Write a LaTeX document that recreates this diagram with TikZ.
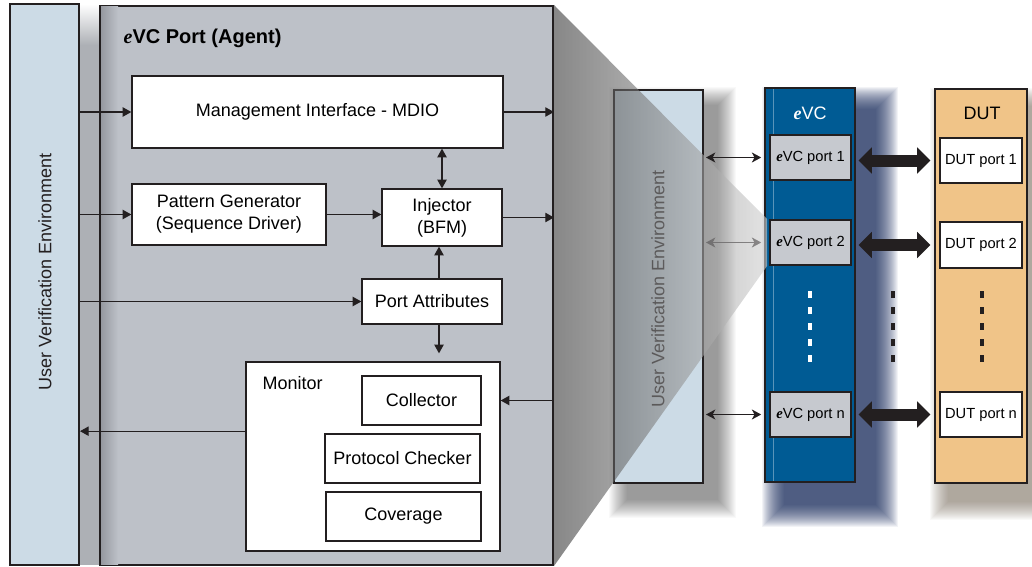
\documentclass[tikz,border=0pt]{standalone}
\usepackage{fontspec}
\setmainfont{Liberation Sans}
\newfontfamily\serifface{Liberation Serif}
\usetikzlibrary{arrows.meta,fit,calc,backgrounds}

\definecolor{ink}{RGB}{35,31,32}
\definecolor{uvefill}{RGB}{204,219,230}
\definecolor{agentfill}{RGB}{189,193,200}
\definecolor{agentedge}{RGB}{150,153,160}
\definecolor{gapgray}{RGB}{173,176,181}
\definecolor{evcblue}{RGB}{0,91,148}
\definecolor{evcshade}{RGB}{22,42,92}
\definecolor{dutfill}{RGB}{240,196,136}
\definecolor{dutshade}{RGB}{105,92,74}
\definecolor{portgray}{RGB}{198,201,207}

% italic serif "e" of the eVC name
\newcommand{\itE}{{\serifface\bfseries\itshape e}}
% soft drop shadow: node, colour, x offset, y offset, layer opacity, spread list
\newcommand{\softshadow}[6]{%
  \foreach \rr in {#6}{%
    \fill[#2, opacity=#5] ($(#1.north west)+(#3-\rr,#4-\rr)$) rectangle ($(#1.south east)+(#3+\rr,#4+\rr)$);
  }}

\begin{document}
\begin{tikzpicture}[x=0.75pt,y=-0.75pt,
  mainfont/.style={font=\fontsize{13.5}{16.5}\selectfont},
  blockbox/.style={draw=ink, line width=1pt, fill=white, inner sep=0pt},
  boxtext/.style={mainfont, align=center, inner sep=0pt},
  portbox/.style={draw=ink, line width=1.2pt, inner sep=0pt},
  porttext/.style={font=\fontsize{11}{13}\selectfont, inner sep=0pt},
  tallbar/.style={draw=ink, line width=1.5pt, inner sep=0pt},
  arr/.style={draw=ink, line width=0.9pt, -{Triangle[length=6.5pt,width=7pt]}},
  darr/.style={draw=ink, line width=0.9pt, {Triangle[length=6.5pt,width=7pt]}-{Triangle[length=6.5pt,width=7pt]}},
  portlink/.style={draw=ink, line width=1.1pt, {Stealth[length=7pt,width=7.5pt,inset=2pt]}-{Stealth[length=7pt,width=7.5pt,inset=2pt]}},
  buslink/.style={draw=ink, line width=9pt, {Triangle[length=10pt,width=19pt]}-{Triangle[length=10pt,width=19pt]}},
  dots/.style={line width=2.7pt, dash pattern=on 5.6pt off 6.4pt},
]
\useasboundingbox (0,0) rectangle (1032,567);

% ---------- agent side ----------
\shade[top color=white, bottom color=gapgray] (79,4) rectangle (100,45);
\fill[gapgray] (79,45) rectangle (100,565);
\node[tallbar, fill=uvefill, fit={(10,4)(79,565)}] (uve) {};
\node[rotate=90, mainfont, text=ink] at (45,272) {User Verification Environment};

\node[tallbar, fill=agentfill, fit={(100,6)(553,565)}] (agent) {};
\shade[left color=agentedge, right color=agentfill] (101,7) rectangle (118,564);
\node[anchor=base west, font=\fontsize{15}{18}\selectfont\bfseries] at (119,44) {\itE VC Port (Agent)};

\node[blockbox, fit={(132,76)(503,148)}] (mi) {};
\node[boxtext] at (mi) {Management Interface - MDIO};
\node[blockbox, fit={(132,184)(326,245)}] (pg) {};
\node[boxtext] at (pg) {Pattern Generator\\(Sequence Driver)};
\node[blockbox, fit={(382,189)(502,246)}] (inj) {};
\node[boxtext] at (inj) {Injector\\(BFM)};
\node[blockbox, fit={(362,279)(502,324)}] (pa) {};
\node[boxtext] at (pa) {Port Attributes};
\node[blockbox, fit={(246,362)(500,551)}] (mon) {};
\node[anchor=base west, mainfont] at (258,389) {Monitor};
\node[blockbox, fit={(362,376)(481,425)}] (coll) {};
\node[boxtext] at (coll) {Collector};
\node[blockbox, fit={(325,434)(480,483)}] (prot) {};
\node[boxtext] at (prot) {Protocol Checker};
\node[blockbox, fit={(326,492)(481,541)}] (cov) {};
\node[boxtext] at (cov) {Coverage};

\draw[arr] (uve.east |- mi.west) -- (mi.west);
\draw[arr] (mi.east) -- (mi.east -| agent.east);
\draw[darr] (mi.south -| inj.north) -- (inj.north);
\draw[arr] (uve.east |- pg.west) -- (pg.west);
\draw[arr] (pg.east) -- (pg.east -| inj.west);
\draw[arr] (inj.east) -- (inj.east -| agent.east);
\draw[arr] ([xshift=5.25pt]pa.north) -- ([xshift=5.25pt]pa.north |- inj.south);
\draw[arr] (uve.east |- pa.west) -- (pa.west);
\draw[arr, shorten >=6pt] ([xshift=5.25pt]pa.south) -- ([xshift=5.25pt]pa.south |- mon.north);
\draw[arr] (agent.east |- coll.east) -- (mon.east |- coll.east);
\draw[arr] ([yshift=19pt]mon.west) -- ([yshift=19pt]mon.west -| uve.east);

% ---------- system side ----------
\node[tallbar, fill=uvefill, fit={(614,90)(703,483)}] (suve) {};
\node[rotate=90, mainfont, text=ink] at (658,289) {User Verification Environment};

\node[tallbar, fill=evcblue, fit={(765,88)(855,482)}] (evc) {};
\draw[white, opacity=0.35, line width=0.6pt] (773,89) -- (773,481);
\node[mainfont, text=white] at (810,113) {\itE VC};
\node[portbox, fill=portgray, fit={(770,135)(851,180)}] (e1) {};
\node[porttext] at (e1) {\itE VC port 1};
\node[portbox, fill=portgray, fit={(770,220)(851,265)}] (e2) {};
\node[porttext] at (e2) {\itE VC port 2};
\node[portbox, fill=portgray, fit={(770,392)(851,437)}] (en) {};
\node[porttext] at (en) {\itE VC port n};

\node[tallbar, fill=dutfill, fit={(935,89)(1027,483)}] (dut) {};
\node[mainfont] at (982,113) {DUT};
\node[portbox, fill=white, fit={(940,138)(1022,183)}] (d1) {};
\node[porttext] at (d1) {DUT port 1};
\node[portbox, fill=white, fit={(940,222)(1022,268)}] (d2) {};
\node[porttext] at (d2) {DUT port 2};
\node[portbox, fill=white, fit={(940,392)(1022,437)}] (dn) {};
\node[porttext] at (dn) {DUT port n};

\draw[portlink, shorten <=1.5pt, shorten >=6pt] (suve.east |- e1.west) -- (e1.west);
\draw[portlink, shorten <=1.5pt, shorten >=6pt] (suve.east |- e2.west) -- (e2.west);
\draw[portlink, shorten <=1.5pt, shorten >=6pt] (suve.east |- en.west) -- (en.west);

\draw[buslink, shorten <=5pt, shorten >=6.5pt] (e1.east |- d1.west) -- (d1.west);
\draw[buslink, shorten <=5pt, shorten >=6.5pt] (e2.east |- d2.west) -- (d2.west);
\draw[buslink, shorten <=5pt, shorten >=6.5pt] (en.east |- dn.west) -- (dn.west);

\draw[dots, white] (810,291) -- (810,362);
\draw[dots, ink] (893,291) -- (893,362);
\draw[dots, ink] (982,291) -- (982,362);

% translucent projection of the agent onto port 2
\shade[left color=black!78, middle color=black!33, right color=black!18, opacity=0.6]
  (agent.north east) -- ([xshift=-1.5pt]e2.north west) -- ([xshift=-1.5pt]e2.south west)
  -- (agent.south east) -- cycle;

% ---------- backdrop and shadows ----------
\begin{pgfonlayer}{background}
\fill[white] (0,0) rectangle (1032,567);
\softshadow{suve}{black}{14}{16}{0.022}{18,17,...,0}
\softshadow{evc}{evcshade}{20}{22}{0.055}{22,21,...,0}
\softshadow{dut}{dutshade}{14}{18}{0.035}{18,17,...,0}
\end{pgfonlayer}
\end{tikzpicture}
\end{document}
